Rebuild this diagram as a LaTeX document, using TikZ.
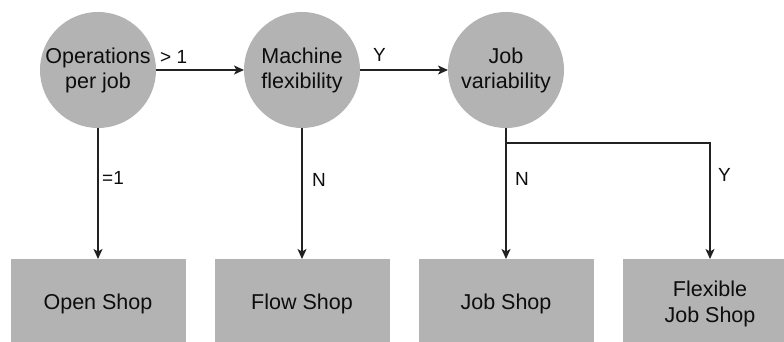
\documentclass[tikz,border=0pt]{standalone}
\usepackage{fontspec}
\setmainfont{Liberation Sans}
\usetikzlibrary{arrows.meta}
\definecolor{nodegray}{HTML}{B3B3B3}
\definecolor{linegray}{HTML}{222222}
\definecolor{txt}{HTML}{0D0D0D}
\tikzset{
  decision/.style={circle, fill=nodegray, draw=none, minimum size=116pt, inner sep=0pt, outer sep=0pt,
    align=center, text=txt, font=\fontsize{21.5}{25}\selectfont},
  shopbox/.style={rectangle, fill=nodegray, draw=none, minimum width=175pt, minimum height=90pt,
    inner sep=0pt, outer sep=0pt, align=center, text=txt, font=\fontsize{21.5}{26}\selectfont},
  arr/.style={draw=linegray, line width=1.3pt, -{Stealth[length=10pt, width=9pt, inset=2.5pt]}},
  lbl/.style={anchor=west, inner sep=0pt, text=txt, font=\fontsize{19}{22}\selectfont}
}
\begin{document}
\begin{tikzpicture}[x=1pt, y=-1pt]
  \useasboundingbox (0,0) rectangle (784,342);
  \clip (0,0) rectangle (784,342);

  % decision circles
  \node[decision] (ops)  at (98,70)  {Operations\\per job};
  \node[decision] (mach) at (302,70) {Machine\\flexibility};
  \node[decision] (jobv) at (506,70) {Job\\variability};

  % shop types
  \node[shopbox] (open) at (98,304)  {Open Shop};
  \node[shopbox] (flow) at (302,304) {Flow Shop};
  \node[shopbox] (jobs) at (506,304) {Job Shop};
  \node[shopbox] (fjs)  at (710,304) {Flexible\\Job Shop};

  % branch point below the job variability decision
  \coordinate (split) at (506,143);

  % connectors
  \draw[arr] (ops) -- (mach);
  \draw[arr] (mach) -- (jobv);
  \draw[arr] (ops) -- (open);
  \draw[arr] (mach) -- (flow);
  \draw[arr] (jobv) -- (jobs);
  \draw[arr] (split) -| (fjs);

  % edge labels
  \node[lbl] (l1) at (160,57)  {> 1};
  \node[lbl] (l2) at (373,55)  {Y};
  \node[lbl] (l3) at (102,178) {=1};
  \node[lbl] (l4) at (312,180) {N};
  \node[lbl] (l5) at (515,179) {N};
  \node[lbl] (l6) at (718,175) {Y};
\end{tikzpicture}
\end{document}
